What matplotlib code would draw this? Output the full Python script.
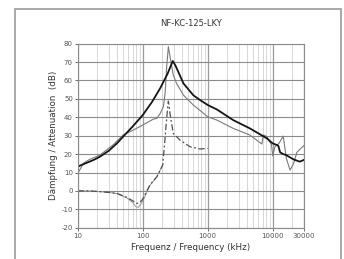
import matplotlib.pyplot as plt
from matplotlib.patches import Rectangle

plt.rcParams["axes.unicode_minus"] = False

# Data
freq_solid = [10, 12, 15, 18, 22, 30, 40, 50, 70, 100, 140, 185, 240, 290, 320, 424, 600, 760, 1000, 1250,
              1380, 2460, 4440, 8100, 10000, 11500, 12200, 13000, 14500, 16000, 21000, 26000, 30000]
att_solid = [13.2, 14.4, 15.8, 17.0, 18.6, 21.8, 25.8, 29.5, 35, 41.2, 48.5, 55.7, 63.5, 70.6, 68, 58.4, 52,
             49.4, 46.7, 45, 44.3, 38.5, 34, 28.6, 25.8, 25, 24.5, 21, 20, 19.5, 17.1, 15.9, 16.8]

freq_thin = [10, 11, 12.2, 15, 22, 35, 50, 71, 100, 146, 165, 185, 208, 221, 234, 248, 263, 295, 332, 424,
             600, 1000, 1380, 2460, 4440, 6800, 7200, 8100, 9600, 10000, 10800, 12500, 14500, 15300, 16200,
             18500, 21000, 23600, 30000]
att_thin = [9.5, 12, 15, 17, 19.5, 25, 30.4, 33, 35.8, 39, 39.4, 42, 45.8, 53, 67.5, 78.4, 73, 63, 58.4, 52,
            46.7, 40.3, 38.5, 34, 30.4, 25.5, 30.4, 29.5, 25, 19, 24, 25.8, 29.8, 24, 17.7, 11.3, 15, 21, 24.6]

freq_dash = [10, 15, 22, 30, 40, 57, 71, 80, 90, 100, 129, 165, 203, 215, 228, 240, 248, 263, 295, 375,
             535, 760, 1000]
att_dash = [0, 0, -0.4, -0.8, -1.3, -3.5, -5.5, -6.8, -6.5, -4.5, 3.2, 7.7, 14, 24, 34.9, 44, 48.8, 42,
            31.3, 27.6, 24, 22.8, 23.1]

freq_gray = [10, 15, 22, 30, 40, 57, 71, 78, 85, 95, 105, 129, 165, 203]
att_gray = [0, 0, -0.4, -0.8, -1.5, -3.8, -6.5, -8.5, -9, -7, -4, 3, 7.7, 14]

x_ticks = [10, 100, 1000, 10000, 30000]
y_ticks = list(range(-20, 81, 10))

fig = plt.figure(figsize=(3.44, 2.59), dpi=100)
fig.patches.append(Rectangle((15 / 344, -0.05), 326 / 344, 1 - 9 / 259 + 0.05, transform=fig.transFigure,
                             fill=False, edgecolor="#9a9a9a", linewidth=1.2))

ax = fig.add_axes([0.2259, 0.1208, 0.657, 0.7105])
ax.set_xscale("log")
ax.set_xlim(10, 30000)
ax.set_ylim(-20, 80)

# grid
ax.grid(True, which="major", axis="y", color="#8a8a8a", linewidth=0.8)
ax.grid(True, which="major", axis="x", color="#9a9a9a", linewidth=0.9)
ax.grid(True, which="minor", axis="x", color="#d2d2d2", linewidth=0.6)
ax.set_axisbelow(True)

ax.plot(freq_gray, att_gray, color="#9a9a9a", linewidth=0.7)
ax.plot(freq_dash, att_dash, color="#505050", linewidth=0.9, dashes=(5, 2, 1.5, 2))
ax.plot(freq_thin, att_thin, color="#7a7a7a", linewidth=0.8)
ax.plot(freq_solid, att_solid, color="#151515", linewidth=1.3)

ax.set_xticks(x_ticks)
ax.set_xticklabels([str(t) for t in x_ticks])
ax.set_yticks(y_ticks)
ax.tick_params(axis="both", which="major", labelsize=5, colors="#555555", length=2, width=0.6, pad=1.5)
ax.tick_params(axis="x", which="minor", length=0)
for s in ax.spines.values():
    s.set_color("#8a8a8a")
    s.set_linewidth(0.8)

ax.set_title("NF-KC-125-LKY", fontsize=6, color="#333333", pad=13)
ax.set_xlabel("Frequenz / Frequency (kHz)", fontsize=6.3, color="#333333", labelpad=3)
ax.set_ylabel("Dämpfung / Attenuation  (dB)", fontsize=6.3, color="#333333", labelpad=2.5)

fig.savefig("out.png", dpi=100)
